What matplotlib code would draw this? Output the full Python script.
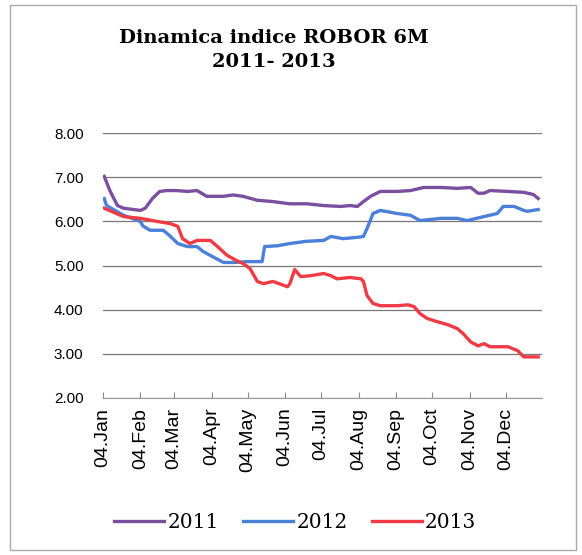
import matplotlib

matplotlib.use("Agg")
import matplotlib.pyplot as plt
from matplotlib.patches import Rectangle

# day of year (0 = 1 Jan) and ROBOR 6M values
days_2011 = [4, 9, 15, 20, 34, 38, 44, 50, 56, 64, 73, 81, 89, 103, 111, 119,
             131, 144, 158, 172, 186, 200, 208, 214, 219, 225, 233, 247, 258,
             269, 283, 297, 308, 314, 319, 324, 339, 352, 360, 364]
vals_2011 = [7.02, 6.68, 6.36, 6.30, 6.25, 6.30, 6.52, 6.68, 6.70, 6.70, 6.68,
             6.70, 6.57, 6.57, 6.60, 6.57, 6.48, 6.45, 6.40, 6.40, 6.36, 6.34,
             6.36, 6.34, 6.45, 6.57, 6.68, 6.68, 6.70, 6.77, 6.77, 6.75, 6.77,
             6.64, 6.64, 6.70, 6.68, 6.66, 6.61, 6.52]

days_2012 = [4, 6, 20, 34, 36, 42, 53, 59, 65, 73, 81, 86, 94, 103, 111, 123,
             135, 137, 148, 158, 172, 186, 192, 202, 214, 219, 222, 227, 233,
             247, 258, 266, 283, 297, 305, 319, 330, 335, 344, 352, 355, 364]
vals_2012 = [6.52, 6.36, 6.14, 6.00, 5.90, 5.80, 5.80, 5.66, 5.50, 5.43, 5.43,
             5.32, 5.20, 5.07, 5.07, 5.09, 5.09, 5.43, 5.45, 5.50, 5.55, 5.57,
             5.66, 5.61, 5.64, 5.66, 5.84, 6.18, 6.25, 6.18, 6.14, 6.02, 6.07,
             6.07, 6.02, 6.11, 6.18, 6.34, 6.34, 6.25, 6.23, 6.27]

days_2013 = [4, 20, 34, 48, 59, 65, 69, 75, 81, 92, 98, 106, 114, 119, 125,
             131, 136, 144, 156, 158, 162, 167, 175, 186, 192, 197, 208, 217,
             219, 222, 227, 233, 247, 256, 261, 266, 272, 280, 289, 297, 302,
             308, 314, 319, 324, 339, 347, 352, 364]
vals_2013 = [6.30, 6.11, 6.07, 6.00, 5.95, 5.89, 5.61, 5.50, 5.57, 5.57, 5.43,
             5.23, 5.11, 5.05, 4.93, 4.64, 4.59, 4.64, 4.52, 4.59, 4.91, 4.75,
             4.77, 4.82, 4.77, 4.70, 4.73, 4.70, 4.64, 4.32, 4.14, 4.09, 4.09,
             4.11, 4.07, 3.91, 3.80, 3.73, 3.66, 3.57, 3.45, 3.27, 3.18, 3.23,
             3.16, 3.16, 3.07, 2.93, 2.93]

tick_days = [3, 34, 62, 93, 123, 154, 184, 215, 246, 276, 307, 337]
tick_labels = ["04.Jan", "04.Feb", "04.Mar", "04.Apr", "04.May", "04.Jun",
               "04.Jul", "04.Aug", "04.Sep", "04.Oct", "04.Nov", "04.Dec"]
y_ticks = [2, 3, 4, 5, 6, 7, 8]

fig = plt.figure(figsize=(5.82, 5.55), dpi=100)
ax = fig.add_axes([0.177, 0.283, 0.754, 0.477])

l1 = ax.plot(days_2011, vals_2011, color="#7b4fa0", lw=2.4, label="2011")
l2 = ax.plot(days_2012, vals_2012, color="#4b80d8", lw=2.4, label="2012")
l3 = ax.plot(days_2013, vals_2013, color="#f03a44", lw=2.4, label="2013")

ax.set_xlim(3, 367)
ax.set_ylim(2, 8)
ax.set_yticks(y_ticks)
ax.set_yticklabels(["%.2f" % v for v in y_ticks], family="Liberation Sans",
                   fontsize=11)
ax.set_xticks(tick_days)
ax.set_xticklabels(tick_labels, rotation=90, family="Liberation Sans",
                   fontsize=14)
ax.tick_params(axis="y", length=0, pad=14)
ax.tick_params(axis="x", direction="in", length=4, color="#888888", pad=7)
ax.grid(axis="y", color="#777777", lw=0.9)
ax.set_axisbelow(True)
for s in ["top", "right", "left"]:
    ax.spines[s].set_visible(False)
ax.spines["bottom"].set_color("#999999")

fig.text(0.470, 0.948, "Dinamica indice ROBOR 6M\n2011- 2013", ha="center",
         va="top", family="DejaVu Serif", weight="bold", fontsize=14,
         linespacing=1.45)

lns = l1 + l2 + l3
fig.legend(lns, [l.get_label() for l in lns], loc="center",
           bbox_to_anchor=(0.507, 0.059), ncol=3, frameon=False,
           prop={"family": "DejaVu Serif", "size": 14.5}, handlelength=2.5,
           handletextpad=0.15, columnspacing=1.2)

fig.patches.append(Rectangle((10 / 582, 5 / 555), 566 / 582, 545 / 555,
                             transform=fig.transFigure, fill=False,
                             edgecolor="#aaaaaa", lw=1))

plt.savefig("out.png", dpi=100)
